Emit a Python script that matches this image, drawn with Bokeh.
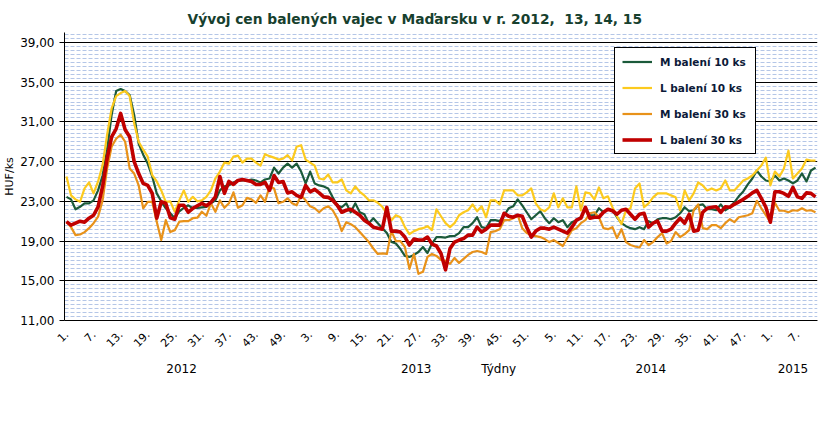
from bokeh.plotting import figure
from bokeh.models import Range1d, FixedTicker, LinearAxis, Legend, LegendItem
from bokeh.embed import file_html
from bokeh.resources import INLINE

# ---------------- data ----------------
years = ["2012", "2013", "2014", "2015"]
weeks_per_year = [52, 52, 52, 11]
week_numbers = [w for n in weeks_per_year for w in range(1, n + 1)]

m_10 = [23.45, 23.2, 22.2, 22.45, 22.8, 22.8, 23.1, 24.1, 25.6, 28.2,
        31.7, 34.1, 34.3, 34.1, 33.7, 31.7, 28.8, 27.7, 26.8, 25.5,
        23.8, 23.0, 22.3, 21.8, 21.3, 22.0, 22.35, 22.6, 22.3, 22.35,
        22.4, 22.45, 22.8, 23.1, 24.1, 24.5, 24.6, 24.9, 25.1, 25.1,
        25.1, 25.2, 25.1, 24.9, 25.2, 25.3, 26.4, 25.8, 26.4, 26.8,
        26.4, 26.8, 26.0, 24.8, 26.0, 24.8, 24.6, 24.5, 24.3, 23.4,
        22.6, 22.4, 22.8, 21.9, 22.8, 21.9, 21.7, 20.8, 21.3, 20.8,
        20.3, 19.8, 18.9, 18.75, 18.2, 17.5, 17.4, 17.6, 17.9, 18.4,
        17.8, 18.75, 19.4, 19.4, 19.35, 19.5, 19.5, 19.8, 20.4, 20.4,
        20.8, 21.4, 20.4, 20.3, 21.1, 21.1, 21.0, 21.6, 22.3, 22.5,
        23.2, 22.6, 21.9, 21.2, 21.6, 22.0, 21.3, 20.8, 21.3, 20.9,
        21.1, 20.4, 20.9, 21.1, 21.4, 22.3, 21.6, 21.6, 22.3, 21.9,
        22.2, 22.1, 21.4, 20.8, 20.5, 20.3, 20.2, 20.4, 20.2, 21.0,
        20.8, 21.2, 21.3, 21.3, 21.2, 21.4, 21.8, 22.4, 22.0, 22.1,
        22.6, 22.7, 22.2, 22.2, 22.1, 22.7, 22.1, 22.4, 22.9, 23.5,
        24.0, 24.7, 25.3, 26.1, 25.5, 25.1, 25.0, 25.6, 25.1, 25.3,
        25.1, 24.8, 25.1, 25.8, 25.0, 26.1, 26.4]

l_10 = [25.5, 23.6, 23.2, 22.95, 24.3, 24.9, 23.8, 25.0, 26.65, 29.7,
        32.35, 33.6, 33.9, 34.1, 33.6, 30.85, 29.0, 28.2, 27.5, 25.65,
        25.0, 24.1, 22.95, 23.0, 21.95, 23.1, 24.1, 22.95, 23.45, 23.0,
        23.1, 23.45, 24.1, 25.3, 26.0, 26.9, 26.8, 27.5, 27.6, 26.9,
        27.3, 27.3, 26.9, 26.6, 27.75, 27.55, 27.4, 27.2, 27.3, 27.65,
        27.1, 28.5, 28.65, 27.2, 26.9, 26.6, 25.3, 25.2, 25.7, 24.9,
        24.9, 25.2, 24.1, 23.8, 24.5, 23.96, 23.6, 23.1, 23.1, 22.85,
        22.45, 21.8, 21.1, 21.6, 21.4, 20.4, 19.7, 20.0, 20.2, 20.3,
        20.5, 20.1, 22.2, 21.5, 20.8, 20.4, 20.8, 21.6, 21.9, 22.1,
        22.7, 22.0, 22.5, 21.4, 23.1, 23.1, 22.7, 24.1, 24.1, 24.1,
        23.6, 23.6, 23.9, 24.3, 22.8, 22.2, 22.0, 22.4, 23.8, 22.4,
        23.3, 22.4, 22.4, 24.5, 22.1, 23.9, 23.8, 23.2, 24.4, 23.3,
        23.5, 22.4, 21.5, 20.7, 22.1, 22.3, 24.3, 24.8, 22.4, 22.8,
        23.4, 23.8, 23.8, 23.8, 23.6, 23.4, 22.1, 24.1, 23.1, 23.8,
        24.9, 24.6, 24.1, 24.3, 24.1, 24.3, 25.1, 24.1, 24.1, 24.6,
        25.1, 25.3, 25.6, 26.1, 26.6, 27.4, 24.6, 26.0, 25.5, 26.3,
        28.1, 25.3, 25.8, 26.3, 27.2, 27.1, 27.1]

m_30 = [20.95, 20.4, 19.6, 19.66, 19.9, 20.3, 20.8, 21.45, 23.1, 26.3,
        28.5, 29.3, 29.7, 29.0, 26.3, 25.8, 24.6, 22.3, 22.95, 22.95,
        20.95, 19.1, 21.1, 19.9, 20.1, 20.95, 21.0, 21.0, 21.3, 21.35,
        21.95, 21.55, 22.8, 21.95, 23.1, 22.35, 22.8, 23.9, 22.35, 22.6,
        23.35, 23.2, 22.85, 23.6, 22.95, 24.5, 24.3, 22.8, 22.95, 23.3,
        22.8, 22.6, 23.6, 23.1, 22.5, 22.3, 21.9, 22.3, 22.5, 22.1,
        21.3, 20.0, 20.9, 20.7, 20.4, 19.9, 19.4, 18.9, 18.25, 17.7,
        17.75, 17.7, 20.0, 19.0, 19.0, 18.4, 16.2, 17.7, 15.7, 15.9,
        17.4, 17.7, 17.5, 17.1, 17.0, 16.7, 17.3, 16.8, 17.2, 17.6,
        17.9, 18.0, 17.9, 17.7, 19.9, 20.0, 20.2, 21.1, 21.1, 21.3,
        21.6, 20.3, 19.8, 19.6, 19.5, 19.4, 19.2, 18.9, 19.1, 18.8,
        18.5, 19.3, 20.1, 20.3, 20.8, 21.1, 21.8, 21.9, 21.4, 20.3,
        20.2, 20.4, 19.3, 20.2, 18.9, 18.6, 18.45, 18.35, 19.1, 18.6,
        18.9, 19.4, 19.8, 18.75, 19.0, 19.9, 19.4, 19.7, 20.1, 22.1,
        22.7, 20.3, 20.2, 20.6, 20.6, 20.3, 20.8, 21.2, 20.9, 21.4,
        21.5, 21.6, 21.8, 23.05, 22.3, 21.6, 20.9, 22.85, 22.05, 22.05,
        21.9, 22.1, 22.05, 22.3, 22.05, 22.1, 21.9]

l_30 = [20.95, 20.6, 20.8, 21.0, 20.9, 21.3, 21.6, 22.45, 24.5, 27.3,
        29.5, 30.3, 31.85, 30.2, 29.5, 27.0, 25.8, 24.8, 24.6, 23.8,
        21.3, 22.95, 22.8, 21.35, 21.2, 22.6, 22.6, 21.9, 22.3, 22.55,
        22.8, 22.55, 22.9, 23.45, 25.5, 23.8, 25.0, 24.7, 25.1, 25.2,
        25.1, 25.0, 24.7, 24.7, 24.9, 24.1, 25.6, 24.9, 25.0, 23.85,
        23.96, 23.6, 23.4, 24.6, 23.96, 24.2, 23.85, 23.45, 23.4, 23.1,
        22.6, 21.9, 22.1, 22.2, 21.9, 21.6, 21.1, 20.8, 20.4, 20.3,
        20.2, 22.4, 20.0, 20.0, 19.9, 19.4, 18.6, 19.2, 19.1, 19.1,
        19.4, 18.7, 18.5, 17.75, 16.1, 18.25, 18.9, 19.1, 19.25, 19.6,
        19.6, 20.4, 19.9, 20.2, 20.6, 20.6, 20.6, 21.8, 21.5, 21.4,
        21.6, 21.5, 20.4, 19.4, 20.0, 20.3, 20.3, 20.2, 20.4, 20.2,
        20.0, 19.8, 20.4, 21.1, 21.3, 22.4, 21.3, 21.4, 21.4, 21.9,
        22.2, 22.05, 21.7, 22.1, 22.2, 21.7, 21.2, 21.7, 21.8, 20.4,
        20.8, 21.0, 20.0, 20.0, 20.2, 20.8, 21.3, 20.8, 21.7, 20.0,
        20.1, 21.9, 22.3, 22.4, 22.45, 21.9, 22.45, 22.4, 22.7, 22.95,
        23.2, 23.5, 23.85, 24.1, 23.3, 22.4, 20.9, 23.96, 23.96, 23.8,
        23.5, 24.4, 23.45, 23.3, 23.85, 23.8, 23.45]

series_names = ["M balení 10 ks", "L balení 10 ks", "M balení 30 ks", "L balení 30 ks"]
series_colors = ["#1b5a3a", "#fcca1e", "#e8921a", "#c00000"]
series_widths = [2.2, 2.2, 2.2, 3.6]

y_ticks = [11, 15, 19, 23, 27, 31, 35, 39]
y_tick_labels = ["11,00", "15,00", "19,00", "23,00", "27,00", "31,00", "35,00", "39,00"]

title_text = "Vývoj cen balených vajec v Maďarsku v r. 2012,\u00a0 13, 14, 15"

# ---------------- derived ----------------
n = len(week_numbers)
xs = list(range(n))
x_tick_idx = list(range(0, n, 6))
x_tick_labels = {i: f"{week_numbers[i]}." for i in x_tick_idx}

year_centers = []
start = 0
for cnt in weeks_per_year:
    year_centers.append(start + (cnt - 1) / 2)
    start += cnt

p = figure(width=834, height=429, output_backend="svg", toolbar_location=None,
           x_range=Range1d(-0.443, n - 1 + 0.443), y_range=Range1d(11, 40),
           min_border_left=63, min_border_right=17, min_border_top=32, min_border_bottom=109,
           background_fill_color="white", border_fill_color="white")
p.outline_line_color = None

# title
p.title.text = title_text
p.title.align = "left"
p.title.offset = 123
p.title.text_font = "DejaVu Sans"
p.title.text_font_size = "13.8px"
p.title.text_font_style = "bold"
p.title.text_color = "#17402e"
p.title.standoff = 11

# y axis
minor = [round(11 + 0.4 * k, 2) for k in range(1, 73) if round(11 + 0.4 * k, 2) not in y_ticks and 11 + 0.4 * k < 40]
yt = FixedTicker(ticks=y_ticks, minor_ticks=minor)
p.yaxis.ticker = yt
p.yaxis.major_label_overrides = {t: l for t, l in zip(y_ticks, y_tick_labels)}
p.yaxis.major_label_text_font = "DejaVu Sans"
p.yaxis.major_label_text_font_size = "12px"
p.yaxis.major_label_text_color = "#000000"
p.yaxis.major_tick_out = 5
p.yaxis.major_tick_in = 0
p.yaxis.minor_tick_out = 0
p.yaxis.minor_tick_in = 0
p.yaxis.major_label_standoff = 5
p.yaxis.axis_line_color = "black"
p.yaxis.major_tick_line_color = "black"
p.yaxis.axis_label = "HUF/ks"
p.yaxis.axis_label_text_font = "DejaVu Sans"
p.yaxis.axis_label_text_font_size = "11px"
p.yaxis.axis_label_text_font_style = "normal"
p.yaxis.axis_label_text_color = "#000000"
p.yaxis.axis_label_standoff = 1

p.ygrid.ticker = yt
p.ygrid.grid_line_color = "black"
p.ygrid.grid_line_width = 1
p.ygrid.minor_grid_line_color = "#b4c6e7"
p.ygrid.minor_grid_line_dash = "4 2"
p.ygrid.minor_grid_line_width = 1
p.xgrid.grid_line_color = None

# x axis (weeks)
p.xaxis.ticker = FixedTicker(ticks=x_tick_idx, minor_ticks=[])
p.xaxis.major_label_overrides = x_tick_labels
p.xaxis.major_label_orientation = 0.785398
p.xaxis.major_label_text_font = "DejaVu Sans"
p.xaxis.major_label_text_font_size = "11px"
p.xaxis.major_label_text_color = "#000000"
p.xaxis.major_tick_out = 0
p.xaxis.major_tick_in = 0
p.xaxis.minor_tick_out = 0
p.xaxis.minor_tick_in = 0
p.xaxis.major_label_standoff = 12
p.xaxis.axis_line_color = "black"

# year axis (+ axis title)
year_ticks = year_centers + [95.8]
year_labels = {c: y for c, y in zip(year_centers, years)}
year_labels[95.8] = "Týdny"
yax = LinearAxis(ticker=FixedTicker(ticks=year_ticks, minor_ticks=[]),
                 major_label_overrides=year_labels,
                 axis_line_color=None, major_tick_line_color=None, minor_tick_line_color=None,
                 major_tick_out=0, major_tick_in=0, minor_tick_out=0, minor_tick_in=0,
                 major_label_text_font="DejaVu Sans", major_label_text_font_size="12px",
                 major_label_text_color="#000000", major_label_standoff=8)
p.add_layout(yax, "below")

# lines
renderers = []
for vals, col, w in zip([m_10, l_10, m_30, l_30], series_colors, series_widths):
    r = p.line(xs, vals, line_color=col, line_width=w, line_join="round")
    renderers.append(r)

legend = Legend(items=[LegendItem(label=nm, renderers=[r]) for nm, r in zip(series_names, renderers)],
                location=(550, 166), orientation="vertical",
                border_line_color="black", border_line_width=1, border_line_alpha=1,
                background_fill_color="white", background_fill_alpha=1,
                label_text_font="DejaVu Sans", label_text_font_size="10.5px",
                label_text_font_style="bold", label_text_color="#0c1a38",
                glyph_width=30, glyph_height=13, label_height=13, label_standoff=8,
                padding=7, spacing=13, margin=0, label_width=88)
p.add_layout(legend, "center")

open("out.html", "w").write(file_html(p, INLINE))
